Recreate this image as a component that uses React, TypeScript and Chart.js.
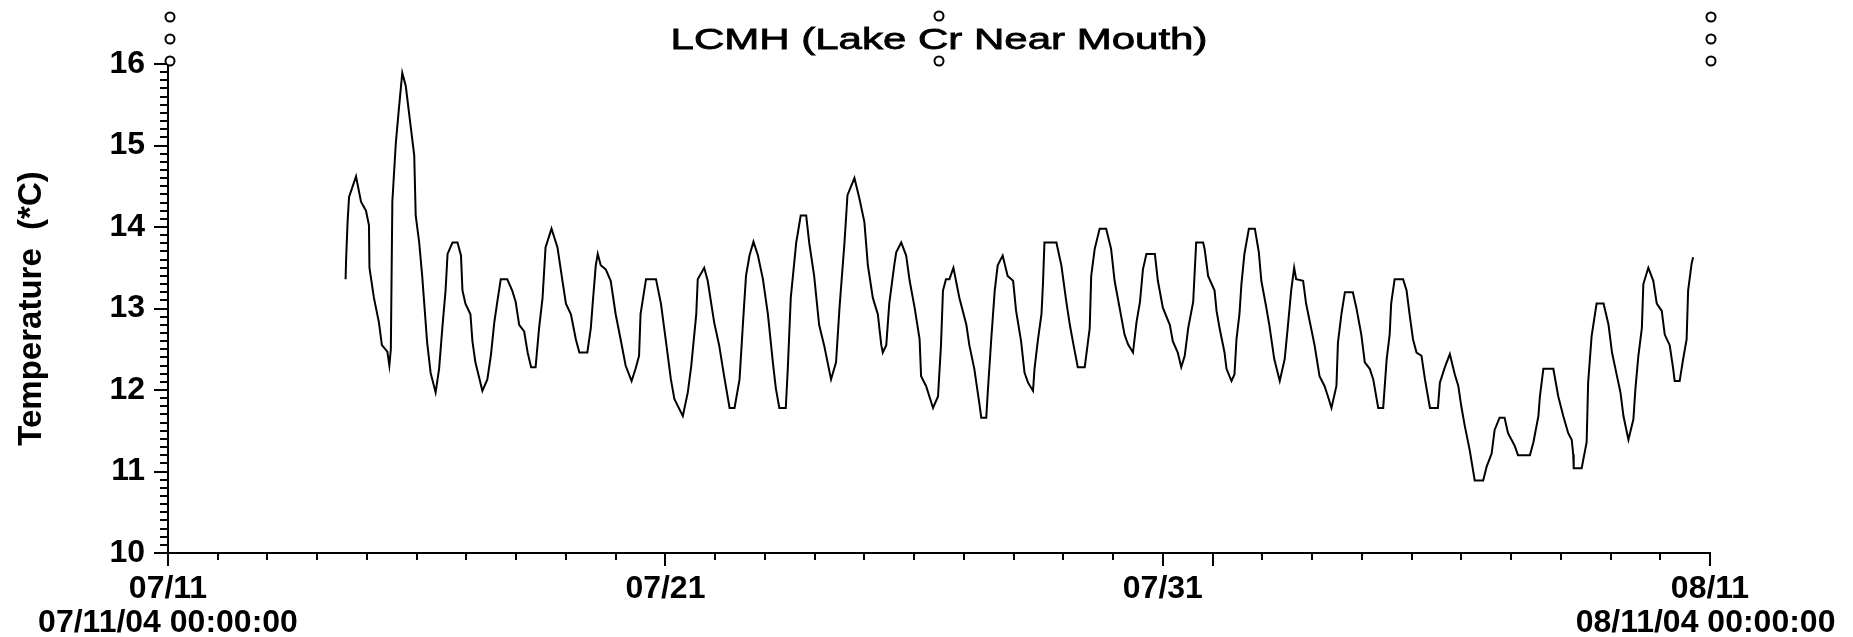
import React, { useEffect, useRef } from 'react';
import { Chart, registerables } from 'chart.js';

Chart.register(...registerables);

const TITLE = 'LCMH (Lake Cr Near Mouth)';
const Y_TITLE = 'Temperature  (*C)';
const FONT = "'Liberation Sans', Arial, Helvetica, sans-serif";

// x = days since 07/11/04 00:00:00
const dayOffsets = [
  3.57, 3.58, 3.61, 3.64, 3.78, 3.88, 3.98, 4.04, 4.05, 4.14, 4.24, 4.30, 4.41, 4.45, 4.48, 4.51, 4.58, 4.64, 4.71, 4.78,
  4.88, 4.95, 4.98, 5.05, 5.11, 5.17, 5.21, 5.28, 5.38, 5.45, 5.52, 5.58, 5.62, 5.72, 5.82, 5.89, 5.92, 5.98, 6.08, 6.12,
  6.18, 6.32, 6.42, 6.49, 6.56, 6.62, 6.69, 6.82, 6.92, 6.99, 7.06, 7.16, 7.23, 7.30, 7.39, 7.46, 7.53, 7.59, 7.71, 7.83,
  7.93, 8.00, 8.10, 8.20, 8.27, 8.43, 8.50, 8.54, 8.60, 8.64, 8.70, 8.80, 8.90, 9.00, 9.10, 9.20, 9.32, 9.40, 9.47, 9.50,
  9.61, 9.81, 9.91, 10.01, 10.11, 10.18, 10.35, 10.45, 10.52, 10.62, 10.65, 10.78, 10.85, 10.98, 11.08, 11.18, 11.29, 11.39, 11.49, 11.56,
  11.62, 11.69, 11.77, 11.86, 11.96, 12.06, 12.16, 12.22, 12.29, 12.42, 12.46, 12.52, 12.63, 12.72, 12.83, 12.89, 12.99, 13.09, 13.19, 13.33,
  13.43, 13.50, 13.60, 13.66, 13.80, 13.90, 14.00, 14.07, 14.17, 14.27, 14.34, 14.37, 14.44, 14.50, 14.60, 14.64, 14.74, 14.84, 14.91, 15.01,
  15.11, 15.14, 15.24, 15.38, 15.48, 15.54, 15.58, 15.64, 15.71, 15.79, 15.91, 16.05, 16.11, 16.21, 16.31, 16.35, 16.45, 16.48, 16.55, 16.62,
  16.68, 16.78, 16.88, 16.99, 17.05, 17.15, 17.22, 17.29, 17.39, 17.42, 17.49, 17.56, 17.59, 17.62, 17.86, 17.96, 18.06, 18.13, 18.19, 18.29,
  18.43, 18.53, 18.56, 18.63, 18.73, 18.86, 18.96, 19.03, 19.13, 19.23, 19.30, 19.40, 19.47, 19.54, 19.60, 19.67, 19.84, 19.90, 20.00, 20.14,
  20.20, 20.30, 20.37, 20.44, 20.51, 20.61, 20.67, 20.81, 20.84, 20.91, 21.04, 21.08, 21.14, 21.24, 21.28, 21.38, 21.44, 21.48, 21.54, 21.58,
  21.64, 21.73, 21.85, 21.93, 21.98, 22.08, 22.14, 22.24, 22.35, 22.45, 22.51, 22.58, 22.64, 22.68, 22.82, 22.88, 22.98, 23.05, 23.15, 23.25,
  23.32, 23.39, 23.49, 23.52, 23.59, 23.66, 23.82, 23.89, 23.99, 24.06, 24.16, 24.23, 24.33, 24.43, 24.50, 24.56, 24.59, 24.66, 24.83, 24.90,
  24.96, 25.03, 25.10, 25.20, 25.27, 25.37, 25.53, 25.57, 25.67, 25.77, 25.87, 25.94, 26.00, 26.07, 26.17, 26.27, 26.44, 26.51, 26.61, 26.67,
  26.77, 26.87, 26.94, 27.07, 27.14, 27.38, 27.45, 27.55, 27.58, 27.65, 27.85, 27.95, 28.05, 28.15, 28.22, 28.25, 28.26, 28.42, 28.52, 28.55,
  28.62, 28.72, 28.86, 28.96, 29.03, 29.13, 29.20, 29.26, 29.36, 29.46, 29.50, 29.56, 29.63, 29.66, 29.76, 29.86, 29.93, 30.03, 30.09, 30.19,
  30.26, 30.29, 30.39, 30.46, 30.53, 30.56, 30.63, 30.66,
];

// y = water temperature, deg C
const temperatures = [
  13.36, 13.59, 14.06, 14.37, 14.62, 14.31, 14.20, 14.02, 13.50, 13.13, 12.83, 12.55, 12.47, 12.30, 12.50, 14.31, 15.03, 15.44, 15.89, 15.73,
  15.23, 14.88, 14.14, 13.81, 13.40, 12.91, 12.58, 12.21, 11.97, 12.26, 12.80, 13.22, 13.67, 13.81, 13.81, 13.65, 13.22, 13.06, 12.93, 12.60,
  12.34, 11.99, 12.13, 12.42, 12.83, 13.08, 13.36, 13.36, 13.22, 13.08, 12.80, 12.72, 12.46, 12.28, 12.28, 12.76, 13.13, 13.75, 13.98, 13.75,
  13.34, 13.06, 12.93, 12.62, 12.46, 12.46, 12.76, 13.08, 13.53, 13.67, 13.53, 13.48, 13.34, 12.93, 12.62, 12.30, 12.11, 12.26, 12.42, 12.93,
  13.36, 13.36, 13.06, 12.60, 12.13, 11.89, 11.68, 11.97, 12.30, 12.93, 13.36, 13.50, 13.34, 12.83, 12.55, 12.17, 11.78, 11.78, 12.13, 12.83,
  13.40, 13.65, 13.82, 13.65, 13.36, 12.93, 12.34, 12.02, 11.78, 11.78, 12.26, 13.13, 13.81, 14.14, 14.14, 13.81, 13.40, 12.80, 12.55, 12.13,
  12.34, 13.01, 13.81, 14.39, 14.60, 14.35, 14.06, 13.53, 13.13, 12.93, 12.55, 12.46, 12.55, 13.06, 13.53, 13.69, 13.81, 13.65, 13.34, 13.01,
  12.62, 12.17, 12.05, 11.78, 11.92, 12.55, 13.22, 13.36, 13.36, 13.50, 13.13, 12.80, 12.55, 12.26, 11.84, 11.66, 11.66, 11.97, 12.62, 13.22,
  13.53, 13.65, 13.40, 13.34, 12.97, 12.60, 12.21, 12.09, 11.99, 12.26, 12.62, 12.93, 13.30, 13.81, 13.81, 13.53, 13.08, 12.80, 12.60, 12.28,
  12.28, 12.76, 13.40, 13.73, 13.98, 13.98, 13.73, 13.34, 13.01, 12.68, 12.56, 12.46, 12.83, 13.08, 13.48, 13.67, 13.67, 13.34, 13.01, 12.80,
  12.60, 12.46, 12.28, 12.42, 12.76, 13.08, 13.81, 13.81, 13.73, 13.40, 13.22, 12.97, 12.76, 12.46, 12.26, 12.11, 12.19, 12.62, 12.93, 13.30,
  13.67, 13.98, 13.98, 13.69, 13.34, 13.01, 12.80, 12.38, 12.11, 12.38, 12.76, 13.22, 13.50, 13.36, 13.34, 13.06, 12.76, 12.55, 12.17, 12.05,
  11.92, 11.78, 12.05, 12.58, 12.93, 13.20, 13.20, 13.01, 12.68, 12.34, 12.26, 12.13, 11.78, 11.78, 12.38, 12.68, 13.06, 13.36, 13.36, 13.22,
  12.93, 12.62, 12.46, 12.42, 12.13, 11.78, 11.78, 12.09, 12.28, 12.44, 12.19, 12.05, 11.80, 11.56, 11.26, 10.89, 10.89, 11.06, 11.22, 11.51,
  11.66, 11.66, 11.47, 11.32, 11.20, 11.20, 11.36, 11.68, 11.92, 12.26, 12.26, 11.92, 11.68, 11.47, 11.39, 11.21, 11.04, 11.04, 11.36, 12.09,
  12.66, 13.06, 13.06, 12.80, 12.46, 12.17, 11.97, 11.68, 11.39, 11.64, 12.01, 12.42, 12.76, 13.30, 13.50, 13.34, 13.06, 12.97, 12.68, 12.55,
  12.26, 12.11, 12.11, 12.38, 12.62, 13.22, 13.55, 13.63,
];

const X_MIN = 0;
const X_MAX = 31;
const Y_MIN = 10;
const Y_MAX = 16;
const Y_MINOR_STEP = 0.1;

const xLabelDays = [0, 10, 20, 31];
const xLabelDates = ['07/11', '07/21', '07/31', '08/11'];
// the last stamp is nudged left (trailing space) so it stays inside the picture, as in the source
const xLabelStamps = ['07/11/04 00:00:00', '', '', '08/11/04 00:00:00 '];
const xLongTickDays = [0, 10, 20, 21, 31];
const yTickValues = [10, 11, 12, 13, 14, 15, 16];

const tickMarksPlugin = {
  id: 'tickMarks',
  afterDraw(chart: any) {
    const { ctx, chartArea, scales } = chart;
    const xs = scales.x;
    const ys = scales.y;
    ctx.save();
    ctx.strokeStyle = '#000';
    ctx.lineWidth = 2;
    ctx.beginPath();
    for (let d = X_MIN; d <= X_MAX; d++) {
      const px = Math.round(xs.getPixelForValue(d));
      const len = xLongTickDays.includes(d) ? 13 : 7;
      ctx.moveTo(px, chartArea.bottom);
      ctx.lineTo(px, chartArea.bottom + len);
    }
    const n = Math.round((Y_MAX - Y_MIN) / Y_MINOR_STEP);
    for (let i = 0; i <= n; i++) {
      const v = Y_MIN + i * Y_MINOR_STEP;
      const py = Math.round(ys.getPixelForValue(v));
      const len = i % 10 === 0 ? 14 : 8;
      ctx.moveTo(chartArea.left, py);
      ctx.lineTo(chartArea.left - len, py);
    }
    ctx.stroke();
    ctx.restore();
  },
};

const titlePlugin = {
  id: 'stretchedTitle',
  afterDraw(chart: any) {
    const { ctx, chartArea } = chart;
    ctx.save();
    ctx.font = `30px ${FONT}`;
    ctx.fillStyle = '#000';
    ctx.strokeStyle = '#000';
    ctx.lineWidth = 0.8;
    ctx.textAlign = 'center';
    ctx.textBaseline = 'alphabetic';
    ctx.translate((chartArea.left + chartArea.right) / 2, chartArea.top - 15);
    ctx.scale(1.4, 1);
    ctx.fillText(TITLE, 0, 0);
    ctx.strokeText(TITLE, 0, 0);
    ctx.restore();
  },
};

const handlesPlugin = {
  id: 'handles',
  afterDraw(chart: any) {
    const { ctx, chartArea } = chart;
    const t = chartArea.top;
    const cx = (chartArea.left + chartArea.right) / 2;
    const spots: [number, number][] = [
      [chartArea.left + 2, t - 47], [chartArea.left + 2, t - 25], [chartArea.left + 2, t - 3],
      [cx, t - 48], [cx, t - 3],
      [chartArea.right + 1, t - 47], [chartArea.right + 1, t - 25], [chartArea.right + 1, t - 3],
    ];
    ctx.save();
    ctx.strokeStyle = '#000';
    ctx.fillStyle = '#fff';
    ctx.lineWidth = 2;
    for (const [x, y] of spots) {
      ctx.beginPath();
      ctx.arc(x, y, 4.5, 0, Math.PI * 2);
      ctx.fill();
      ctx.stroke();
    }
    ctx.restore();
  },
};

export default function App() {
  const canvasRef = useRef<HTMLCanvasElement | null>(null);

  useEffect(() => {
    document.body.style.margin = '0';
    const canvas = canvasRef.current;
    if (!canvas) return;
    const chart = new Chart(canvas, {
      type: 'line',
      data: {
        datasets: [
          {
            label: 'LCMH',
            data: dayOffsets.map((d, i) => ({ x: d, y: temperatures[i] })),
            borderColor: '#000',
            borderWidth: 2,
            pointRadius: 0,
            tension: 0,
            fill: false,
          },
        ],
      },
      options: {
        responsive: false,
        animation: false,
        layout: { padding: { top: 64, right: 143, bottom: 0, left: 0 } },
        plugins: {
          legend: { display: false },
          tooltip: { enabled: false },
          title: { display: false },
        },
        scales: {
          x: {
            type: 'linear',
            min: X_MIN,
            max: X_MAX,
            grid: { display: false, drawTicks: false },
            border: { display: true, color: '#000', width: 2 },
            afterBuildTicks: (scale: any) => {
              scale.ticks = xLabelDays.map((v) => ({ value: v }));
            },
            afterFit: (scale: any) => {
              scale.height = 84;
              scale.paddingLeft = 0;
              scale.paddingRight = 0;
            },
            ticks: {
              autoSkip: false,
              maxRotation: 0,
              minRotation: 0,
              padding: 19,
              color: '#000',
              font: { family: FONT, size: 32, weight: 'bold', lineHeight: 1.06 },
              callback: (value: any) => {
                const i = xLabelDays.indexOf(Number(value));
                if (i < 0) return '';
                return xLabelStamps[i] ? [xLabelDates[i], xLabelStamps[i]] : xLabelDates[i];
              },
            },
          },
          y: {
            type: 'linear',
            min: Y_MIN,
            max: Y_MAX,
            grid: { display: false, drawTicks: false },
            border: { display: true, color: '#000', width: 2 },
            afterBuildTicks: (scale: any) => {
              scale.ticks = yTickValues.map((v) => ({ value: v }));
            },
            afterFit: (scale: any) => {
              scale.width = 168;
            },
            ticks: {
              autoSkip: false,
              padding: 23,
              color: '#000',
              font: { family: FONT, size: 32, weight: 'bold' },
              callback: (value: any) => String(value),
            },
            title: {
              display: true,
              text: Y_TITLE,
              color: '#000',
              font: { family: FONT, size: 33, weight: 'bold' },
              padding: { top: 12, bottom: 0 },
            },
          },
        },
      },
      plugins: [tickMarksPlugin, titlePlugin, handlesPlugin],
    });
    return () => chart.destroy();
  }, []);

  return (
    <canvas
      ref={canvasRef}
      width={1853}
      height={637}
      style={{ position: 'absolute', left: 0, top: 0, display: 'block' }}
    />
  );
}
